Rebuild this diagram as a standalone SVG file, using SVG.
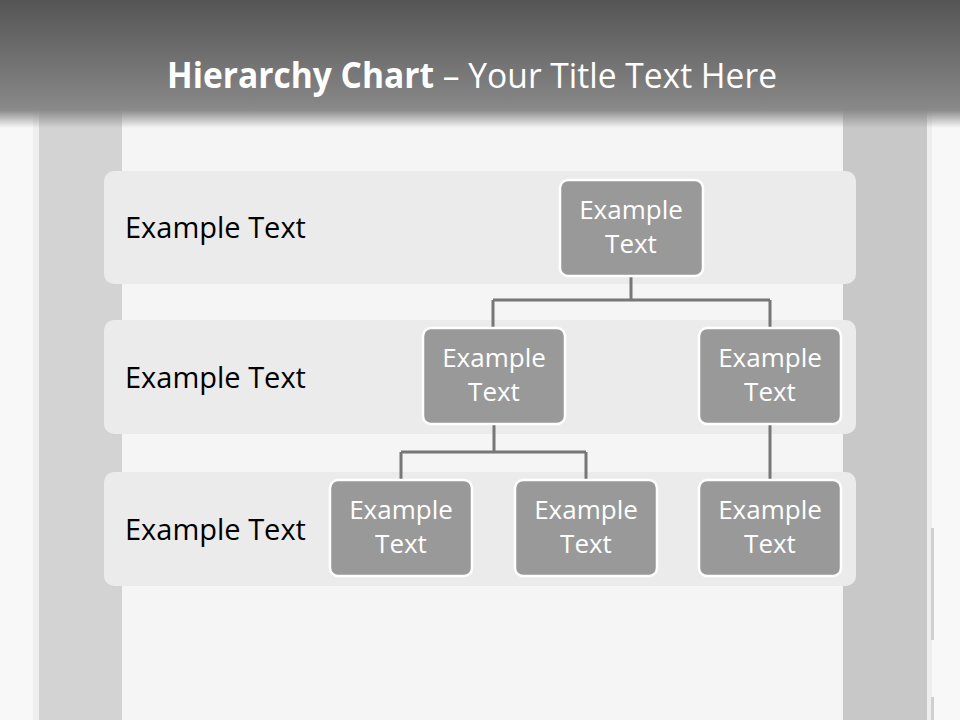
<svg xmlns="http://www.w3.org/2000/svg" width="960" height="720" viewBox="0 0 960 720">
<defs>
<linearGradient id="title" x1="0" y1="0" x2="0" y2="1">
<stop offset="0" stop-color="#555555"/>
<stop offset="0.8" stop-color="#858585"/>
<stop offset="0.86" stop-color="#8a8a8a"/>
<stop offset="1" stop-color="#8a8a8a" stop-opacity="0"/>
</linearGradient>
<style>
.band{fill:#ebebeb}
.lbl{font-family:"Open Sans","Liberation Sans",sans-serif;font-size:29px;fill:#000}
.box{fill:#999999;stroke:#ffffff;stroke-width:2.5}
.nt{font-family:"Open Sans","Liberation Sans",sans-serif;font-size:26px;fill:#ffffff;text-anchor:middle}
.con{fill:none;stroke:#777777;stroke-width:3}
</style>
</defs>
<rect width="960" height="720" fill="#f8f8f8"/>
<rect x="33" y="0" width="6" height="720" fill="#eeeeee"/>
<rect x="39" y="0" width="83" height="720" fill="#d3d3d3"/>
<rect x="122" y="0" width="721" height="720" fill="#f5f5f5"/>
<rect x="843" y="0" width="84" height="720" fill="#c8c8c8"/>
<rect x="927" y="0" width="5" height="720" fill="#eeeeee"/>
<rect x="931" y="528" width="3" height="112" fill="#d0d0d0"/>
<rect x="931" y="697" width="3" height="23" fill="#d0d0d0"/>
<rect x="0" y="0" width="960" height="128" fill="url(#title)"/>
<text x="472" y="88" text-anchor="middle" font-family="'Open Sans','Liberation Sans',sans-serif" font-size="35" fill="#ffffff" textLength="610" lengthAdjust="spacingAndGlyphs"><tspan font-weight="bold">Hierarchy Chart</tspan> – Your Title Text Here</text>
<g id="band1"><rect class="band" x="104" y="171" width="752" height="113" rx="10"/><text class="lbl" x="125" y="238">Example Text</text></g>
<g id="band2"><rect class="band" x="104" y="320" width="752" height="114" rx="10"/><text class="lbl" x="125" y="388">Example Text</text></g>
<g id="band3"><rect class="band" x="104" y="472" width="752" height="114" rx="10"/><text class="lbl" x="125" y="540">Example Text</text></g>
<g id="connectors">
<path class="con" d="M631 276V300M493 300H770M493 300V328M770 300V328"/>
<path class="con" d="M494 424V452M401 452H586M401 452V480M586 452V480"/>
<path class="con" d="M770 424V480"/>
</g>
<g id="n1"><rect class="box" x="560" y="180" width="143" height="96" rx="8"/><text class="nt" x="631" y="219">Example</text><text class="nt" x="631" y="253">Text</text></g>
<g id="n2"><rect class="box" x="423" y="328" width="142" height="96" rx="8"/><text class="nt" x="494" y="367">Example</text><text class="nt" x="494" y="401">Text</text></g>
<g id="n3"><rect class="box" x="699" y="328" width="142" height="96" rx="8"/><text class="nt" x="770" y="367">Example</text><text class="nt" x="770" y="401">Text</text></g>
<g id="n4"><rect class="box" x="330" y="480" width="142" height="96" rx="8"/><text class="nt" x="401" y="519">Example</text><text class="nt" x="401" y="553">Text</text></g>
<g id="n5"><rect class="box" x="515" y="480" width="142" height="96" rx="8"/><text class="nt" x="586" y="519">Example</text><text class="nt" x="586" y="553">Text</text></g>
<g id="n6"><rect class="box" x="699" y="480" width="142" height="96" rx="8"/><text class="nt" x="770" y="519">Example</text><text class="nt" x="770" y="553">Text</text></g>
</svg>
